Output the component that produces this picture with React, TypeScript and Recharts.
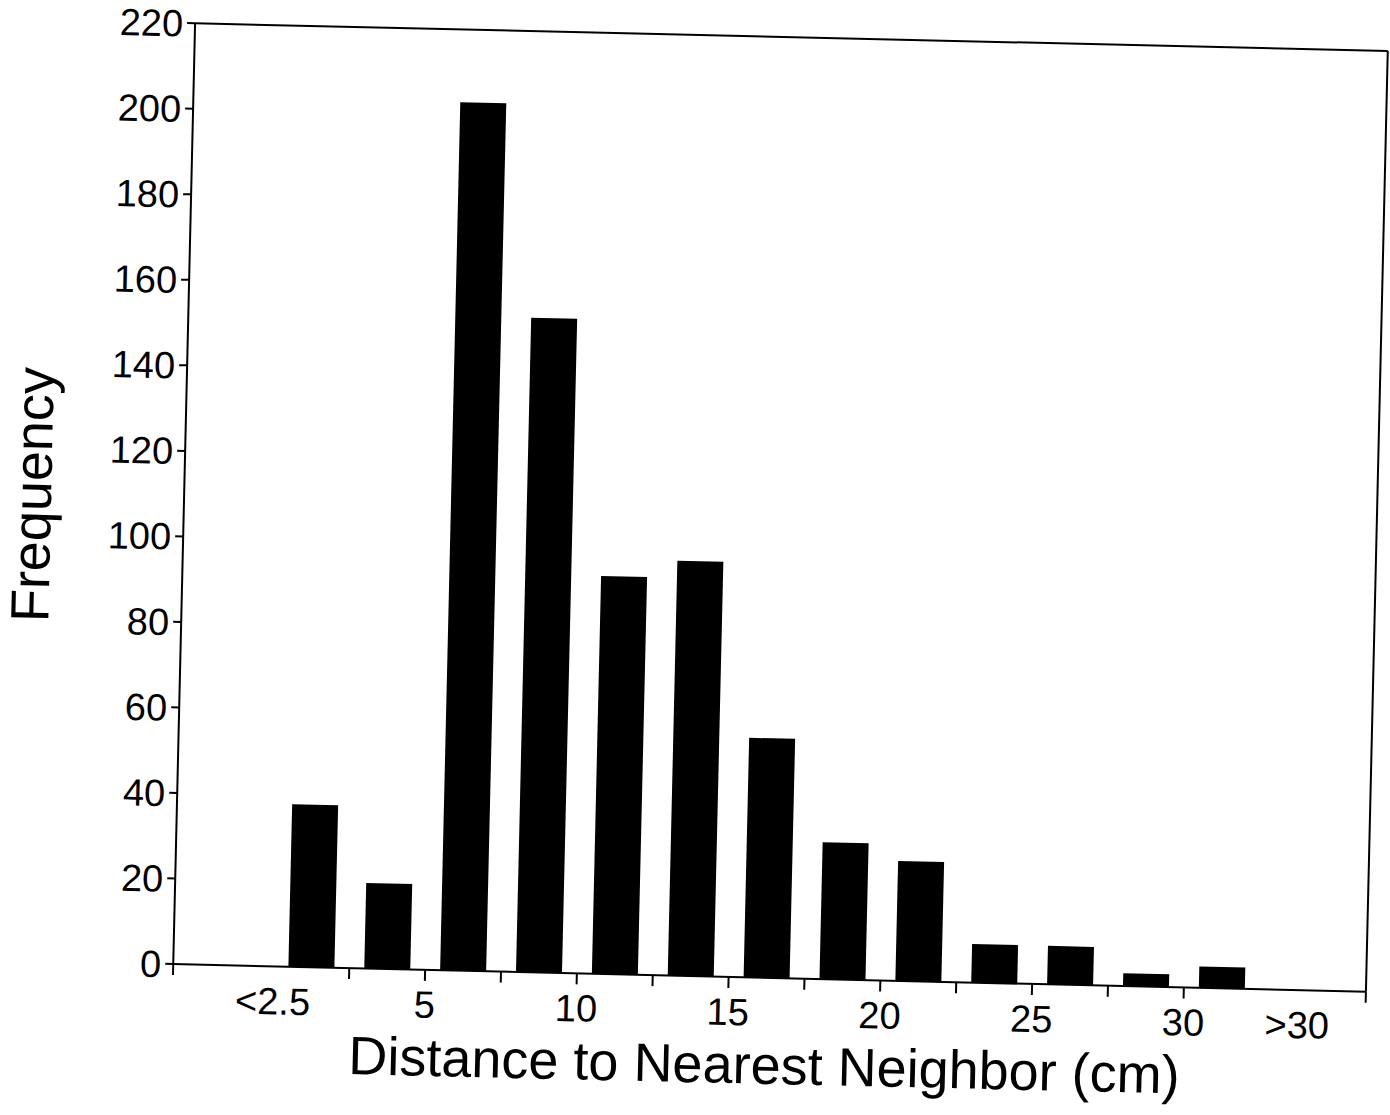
import { BarChart, Bar, XAxis, YAxis, ReferenceLine } from 'recharts'

// bins are 2.5 cm wide, bars sit at the bin centres
const binCenters = [1.25, 3.75, 6.25, 8.75, 11.25, 13.75, 16.25, 18.75, 21.25, 23.75, 26.25, 28.75, 31.25]
const frequency = [38, 20, 203, 153, 93, 97, 56, 32, 28, 9, 9, 3, 5]

const yTicks = [0, 20, 40, 60, 80, 100, 120, 140, 160, 180, 200, 220]
const xTickMarks = [-3.3, 2.5, 5, 7.5, 10, 12.5, 15, 17.5, 20, 22.5, 25, 27.5, 30, 36]
const xLabelValues = [0, 5, 10, 15, 20, 25, 30, 33.75]
const xLabelTexts = ['<2.5', '5', '10', '15', '20', '25', '30', '>30']

const chartData = binCenters.map((x, i) => ({ x, count: frequency[i] }))
const allXTicks = Array.from(new Set([...xTickMarks, ...xLabelValues])).sort((a, b) => a - b)

const FONT = '"Liberation Sans", Arial, Helvetica, sans-serif'

function XTick(props: any) {
  const { x, y, payload } = props
  const v = payload.value
  const idx = xLabelValues.indexOf(v)
  return (
    <g>
      {xTickMarks.includes(v) && (
        <line x1={x} x2={x} y1={y} y2={y + 11} stroke="#000" strokeWidth={2} />
      )}
      {idx >= 0 && (
        <text x={x} y={y + 48} textAnchor="middle" fontSize={38} fill="#000" fontFamily={FONT}>
          {xLabelTexts[idx]}
        </text>
      )}
    </g>
  )
}

export default function App() {
  return (
    <div style={{ position: 'absolute', left: 0, top: 0, width: 1390, height: 1115, overflow: 'hidden', background: '#fff' }}>
      {/* the scan is tilted a little clockwise */}
      <div
        style={{
          position: 'absolute',
          left: 0,
          top: 0,
          width: 1390,
          height: 1115,
          transform: 'rotate(1.33deg)',
          transformOrigin: '781px 507.5px',
        }}
      >
        <BarChart width={1390} height={1115} data={chartData} margin={{ top: 37, right: 13, left: 84, bottom: 77 }}>
          <XAxis
            type="number"
            dataKey="x"
            domain={[-3.3, 36]}
            allowDataOverflow
            ticks={allXTicks}
            interval={0}
            height={60}
            tickSize={0}
            tickMargin={0}
            tickLine={false}
            axisLine={{ stroke: '#000', strokeWidth: 2 }}
            tick={<XTick />}
          />
          <YAxis
            type="number"
            domain={[0, 220]}
            ticks={yTicks}
            interval={0}
            width={100}
            tickSize={8}
            tickMargin={4}
            axisLine={{ stroke: '#000', strokeWidth: 2 }}
            tickLine={{ stroke: '#000', strokeWidth: 2 }}
            tick={{ fill: '#000', fontSize: 38, fontFamily: FONT }}
          />
          <ReferenceLine y={220} stroke="#000" strokeWidth={2} />
          <ReferenceLine x={36} stroke="#000" strokeWidth={2} />
          <Bar dataKey="count" fill="#000" barSize={46} isAnimationActive={false} />
        </BarChart>
        <svg
          width={1390}
          height={1115}
          style={{ position: 'absolute', left: 0, top: 0, pointerEvents: 'none' }}
        >
          <text x={777} y={1084} textAnchor="middle" fontSize={54} fill="#000" fontFamily={FONT}>
            Distance to Nearest Neighbor (cm)
          </text>
          <text
            transform="translate(51,512) rotate(-90)"
            textAnchor="middle"
            fontSize={54}
            fill="#000"
            fontFamily={FONT}
          >
            Frequency
          </text>
        </svg>
      </div>
    </div>
  )
}
